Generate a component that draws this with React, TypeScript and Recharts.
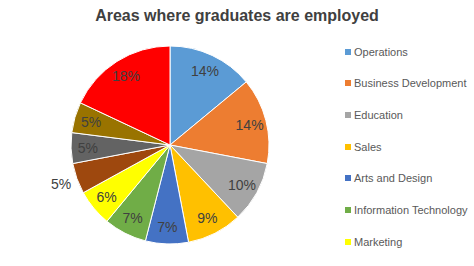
import React from 'react';
import { PieChart, Pie, Cell, Legend } from 'recharts';

const title = 'Areas where graduates are employed';
const categories = [
  'Operations',
  'Business Development',
  'Education',
  'Sales',
  'Arts and Design',
  'Information Technology',
  'Marketing',
  'Finance',
  'Human Resources',
  'Research',
  'Others',
];
const shares = [14, 14, 10, 9, 7, 7, 6, 5, 5, 5, 18];
const colors = [
  '#5B9BD5',
  '#ED7D31',
  '#A5A5A5',
  '#FFC000',
  '#4472C4',
  '#70AD47',
  '#FFFF00',
  '#9E480E',
  '#636363',
  '#997300',
  '#FF0000',
];
const legendVisibleCount = 7;
const outsideLabelCategories = ['Finance'];

const data = categories.map((name, i) => ({ name, value: shares[i] }));

const FONT = '"Liberation Sans", Arial, sans-serif';
const RAD = Math.PI / 180;

const renderLabel = (props: any) => {
  const { cx, cy, midAngle, outerRadius, index, value } = props;
  const outside = outsideLabelCategories.includes(categories[index]);
  const r = outside ? outerRadius * 1.17 : outerRadius * 0.83;
  const x = cx + r * Math.cos(-midAngle * RAD);
  const y = cy + r * Math.sin(-midAngle * RAD);
  return (
    <text
      x={x}
      y={y}
      fill="#404040"
      fontSize={14}
      fontFamily={FONT}
      textAnchor="middle"
      dominantBaseline="central"
    >
      {`${value}%`}
    </text>
  );
};

const renderLegend = (props: any) => {
  const payload = [...(props.payload || [])]
    .sort((a: any, b: any) => categories.indexOf(a.value) - categories.indexOf(b.value))
    .slice(0, legendVisibleCount);
  return (
    <div style={{ fontFamily: FONT, fontSize: 11, color: '#595959' }}>
      {payload.map((entry: any, i: number) => (
        <div
          key={i}
          style={{ display: 'flex', alignItems: 'center', height: 31.67, whiteSpace: 'nowrap' }}
        >
          <span
            style={{
              display: 'inline-block',
              width: 6,
              height: 6,
              background: entry.color,
              marginRight: 3,
            }}
          />
          <span>{entry.value}</span>
        </div>
      ))}
    </div>
  );
};

export default function App() {
  return (
    <div style={{ position: 'absolute', left: 0, top: 0, width: 474, height: 266, background: '#fff' }}>
      <div
        style={{
          position: 'absolute',
          left: 0,
          top: 6,
          width: 474,
          textAlign: 'center',
          fontFamily: FONT,
          fontWeight: 'bold',
          fontSize: 16,
          color: '#404040',
          lineHeight: '20px',
        }}
      >
        {title}
      </div>
      <PieChart width={474} height={266} margin={{ top: 0, right: 0, bottom: 0, left: 0 }}>
        <Pie
          data={data}
          dataKey="value"
          nameKey="name"
          cx={170}
          cy={145}
          outerRadius={99}
          startAngle={90}
          endAngle={-270}
          stroke="#ffffff"
          strokeWidth={1}
          label={renderLabel}
          labelLine={false}
          isAnimationActive={false}
        >
          {data.map((d, i) => (
            <Cell key={d.name} fill={colors[i]} />
          ))}
        </Pie>
        <Legend
          layout="vertical"
          verticalAlign="top"
          align="right"
          content={renderLegend}
          wrapperStyle={{ position: 'absolute', left: 345, top: 36, width: 129 }}
        />
      </PieChart>
    </div>
  );
}
